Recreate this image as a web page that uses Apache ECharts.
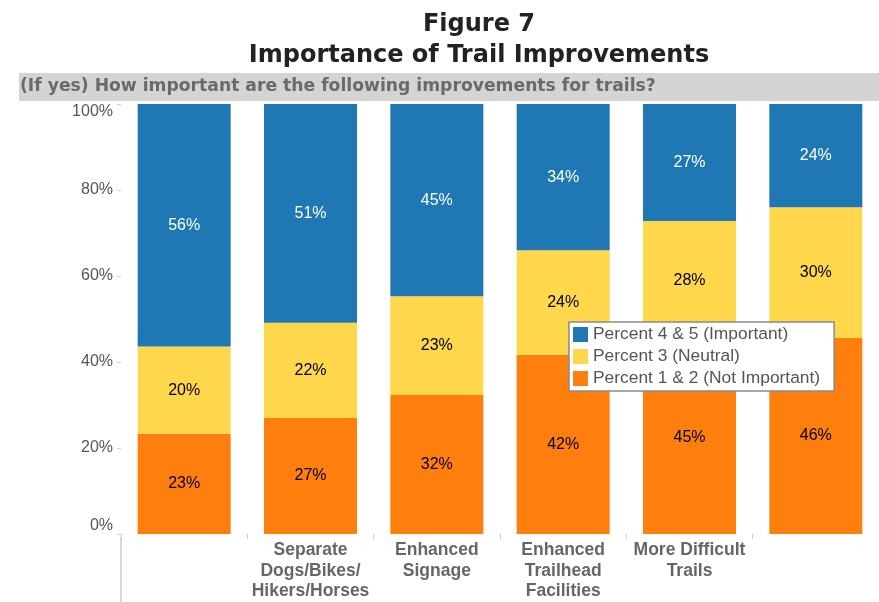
<!DOCTYPE html>
<html>
<head>
<meta charset="utf-8">
<script src="https://cdn.jsdelivr.net/npm/echarts@6/dist/echarts.min.js"></script>
<style>
html,body{margin:0;padding:0;background:#fff;}
#chart{width:879px;height:602px;}
</style>
</head>
<body>
<div id="chart"></div>
<script>
const categories = ['', 'Separate\nDogs/Bikes/\nHikers/Horses', 'Enhanced\nSignage', 'Enhanced\nTrailhead\nFacilities', 'More Difficult\nTrails', ''];
const notImportant = [23.3, 27.0, 32.3, 41.7, 45.0, 45.6];
const neutral = [20.3, 22.1, 23.0, 24.3, 27.8, 30.4];
const important = [56.4, 50.9, 44.7, 34.0, 27.2, 24.0];
const seriesNames = ['Percent 1 & 2 (Not Important)', 'Percent 3 (Neutral)', 'Percent 4 & 5 (Important)'];
const yTicks = [0, 20, 40, 60, 80, 100];

const colors = ['#ff7f0e', '#fed74b', '#1f77b4'];
const labelColors = ['#000', '#000', '#fff'];
const seriesData = [notImportant, neutral, important];

const chart = echarts.init(document.getElementById('chart'));
const option = {
  animation: false,
  title: {
    text: 'Figure 7\nImportance of Trail Improvements',
    left: 474, top: 4, textAlign: 'center',
    textStyle: { fontFamily: 'DejaVu Sans', fontWeight: 'bold', fontSize: 24, lineHeight: 31, color: '#222' }
  },
  graphic: [
    { type: 'rect', shape: { x: 19, y: 73, width: 860, height: 28 }, style: { fill: '#d4d4d4' }, z: 0 },
    { type: 'text', x: 20, y: 87, style: { text: '(If yes) How important are the following improvements for trails?', fill: '#6a6a6a',
      font: 'bold 17.2px "DejaVu Sans"', textVerticalAlign: 'middle' }, z: 1 },
    { type: 'line', shape: { x1: 121, y1: 537, x2: 121, y2: 602 }, style: { stroke: '#d8d8d8', lineWidth: 2 } }
  ],
  legend: {
    orient: 'vertical', left: 569, top: 322,
    data: [seriesNames[2], seriesNames[1], seriesNames[0]],
    icon: 'rect', itemWidth: 15, itemHeight: 15, itemGap: 5, itemTextGap: 7,
    padding: [4, 14, 4, 4],
    backgroundColor: '#fff', borderColor: '#8a8a8a', borderWidth: 1.5,
    textStyle: { fontFamily: 'Liberation Sans, Arial', fontSize: 17.4, color: '#555' },
    z: 10
  },
  grid: { left: 121, right: -1, top: 104, bottom: 68, containLabel: false },
  xAxis: {
    type: 'category', data: categories,
    axisLine: { show: false },
    axisTick: { show: true, length: 5, lineStyle: { color: '#cfcfcf' } },
    offset: 3,
    axisLabel: { interval: 0, margin: 3, fontFamily: 'Liberation Sans, Arial', fontWeight: 'bold', fontSize: 17.5, lineHeight: 20.5, color: '#666' }
  },
  yAxis: {
    type: 'value', min: yTicks[0], max: yTicks[yTicks.length - 1], interval: 20,
    splitLine: { show: false },
    axisLine: { show: false },
    axisTick: { show: true, length: 4, lineStyle: { color: '#cfcfcf' } },
    axisLabel: { formatter: '{value}%', margin: 8, fontFamily: 'Liberation Sans, Arial', fontSize: 16, color: '#555',
      verticalAlignMaxLabel: 'top', verticalAlignMinLabel: 'bottom' }
  },
  series: seriesData.map((d, i) => ({
    name: seriesNames[i], type: 'bar', stack: 'total', data: d, barWidth: 93,
    itemStyle: { color: colors[i] },
    label: { show: true, position: 'inside', formatter: p => Math.round(p.value) + '%',
      color: labelColors[i], fontFamily: 'Liberation Sans, Arial', fontSize: 16 }
  }))
};
chart.setOption(option);
</script>
</body>
</html>
